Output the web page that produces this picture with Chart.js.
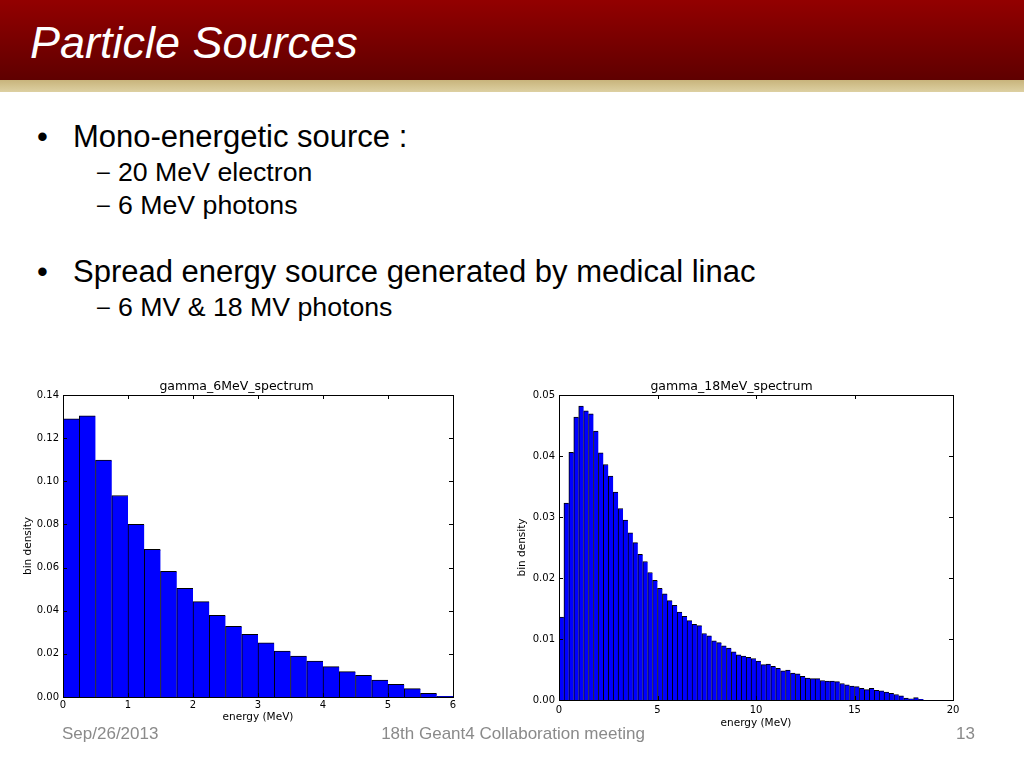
<!DOCTYPE html>
<html>
<head>
<meta charset="utf-8">
<title>Particle Sources</title>
<script src="https://cdn.jsdelivr.net/npm/chart.js@4.4.0/dist/chart.umd.min.js"></script>
<style>
  html, body { margin: 0; padding: 0; }
  body { width: 1024px; height: 768px; position: relative; overflow: hidden; background: #fff;
         font-family: "Liberation Sans", Arial, sans-serif; color: #000; }
  .abs { position: absolute; line-height: 1; white-space: nowrap; }
  #header { position: absolute; left: 0; top: 0; width: 1024px; height: 80px;
            background: linear-gradient(#930000, #5f0000); }
  #band { position: absolute; left: 0; top: 80px; width: 1024px; height: 12px;
          background: linear-gradient(#c8b47c, #ddd0a2); }
  #title { left: 30px; top: 20px; font-size: 45px; font-style: italic; color: #fff; }
  .l1 { font-size: 31px; }
  .l2 { font-size: 26.7px; }
  .dash { font-size: 23px; }
  .foot { font-size: 17px; color: #8a8a8a; top: 725px; }
  #c1 { position: absolute; left: 20px; top: 375px; }
  #c2 { position: absolute; left: 510px; top: 375px; }
</style>
</head>
<body>
<div id="header"></div>
<div id="band"></div>
<div id="title" class="abs">Particle Sources</div>

<div class="abs l1" style="left:37px;top:121px">&bull;</div>
<div class="abs l1" style="left:73px;top:121px">Mono-energetic source :</div>
<div class="abs dash" style="left:97px;top:160px">&ndash;</div>
<div class="abs l2" style="left:118px;top:159px">20 MeV electron</div>
<div class="abs dash" style="left:97px;top:193px">&ndash;</div>
<div class="abs l2" style="left:118px;top:192px">6 MeV photons</div>
<div class="abs l1" style="left:37px;top:256px">&bull;</div>
<div class="abs l1" style="left:73px;top:256px">Spread energy source generated by medical linac</div>
<div class="abs dash" style="left:97px;top:295px">&ndash;</div>
<div class="abs l2" style="left:118px;top:294px">6 MV &amp; 18 MV photons</div>

<canvas id="c1" width="450" height="350" style="width:450px;height:350px"></canvas>
<canvas id="c2" width="460" height="355" style="width:460px;height:355px"></canvas>

<div class="abs foot" style="left:62px">Sep/26/2013</div>
<div class="abs foot" style="left:313px;width:400px;text-align:center">18th Geant4 Collaboration meeting</div>
<div class="abs foot" style="left:875px;width:100px;text-align:right">13</div>

<script>
// bin width is 0.25 MeV for both histograms
var binWidth = 0.25;

var title6 = 'gamma_6MeV_spectrum';
var xTicks6 = [0, 1, 2, 3, 4, 5, 6];
var yTicks6 = [0, 0.02, 0.04, 0.06, 0.08, 0.10, 0.12, 0.14];
var density6 = [0.1289, 0.1304, 0.1098, 0.0934, 0.0800, 0.0684, 0.0583, 0.0504,
                0.0442, 0.0379, 0.0328, 0.0291, 0.0251, 0.0213, 0.0190, 0.0166,
                0.0141, 0.0118, 0.0101, 0.0079, 0.0059, 0.0039, 0.0017, 0.0003];

var title18 = 'gamma_18MeV_spectrum';
var xTicks18 = [0, 5, 10, 15, 20];
var yTicks18 = [0, 0.01, 0.02, 0.03, 0.04, 0.05];
var density18 = [0.0136, 0.0323, 0.0406, 0.0464, 0.0482, 0.0474, 0.0469, 0.0441,
                 0.0405, 0.0386, 0.0367, 0.0341, 0.0314, 0.0295, 0.0274, 0.0258,
                 0.0239, 0.0227, 0.0209, 0.0196, 0.0183, 0.0174, 0.0163, 0.0155,
                 0.0144, 0.0137, 0.0130, 0.0124, 0.0122, 0.0109, 0.0105, 0.0097,
                 0.0094, 0.0089, 0.0085, 0.0079, 0.0074, 0.0072, 0.0070, 0.0068,
                 0.0064, 0.0058, 0.0059, 0.0055, 0.0052, 0.0048, 0.0049, 0.0044,
                 0.0043, 0.0039, 0.0036, 0.0035, 0.0035, 0.0032, 0.0031, 0.0031,
                 0.0030, 0.0027, 0.0025, 0.0023, 0.0022, 0.0019, 0.0017, 0.0019,
                 0.0016, 0.0015, 0.0013, 0.0011, 0.0009, 0.0007, 0.0003, 0.0002,
                 0.0004, 0.0001, 0, 0, 0, 0, 0, 0];

var font = 'DejaVu Sans';

// matplotlib style box with inward ticks on all four sides
var frame = {
  id: 'frame',
  afterDraw: function(chart) {
    var ctx = chart.ctx, a = chart.chartArea;
    var xs = chart.scales.x, ys = chart.scales.y, t = 4;
    ctx.save();
    ctx.strokeStyle = '#000';
    ctx.lineWidth = 1;
    ctx.strokeRect(Math.round(a.left) + 0.5, Math.round(a.top) + 0.5,
                   Math.round(a.right - a.left), Math.round(a.bottom - a.top));
    ctx.beginPath();
    xs.ticks.forEach(function(tk) {
      var px = Math.round(xs.getPixelForValue(tk.value)) + 0.5;
      ctx.moveTo(px, a.bottom); ctx.lineTo(px, a.bottom - t);
      ctx.moveTo(px, a.top); ctx.lineTo(px, a.top + t);
    });
    ys.ticks.forEach(function(tk) {
      var py = Math.round(ys.getPixelForValue(tk.value)) + 0.5;
      ctx.moveTo(a.left, py); ctx.lineTo(a.left + t, py);
      ctx.moveTo(a.right, py); ctx.lineTo(a.right - t, py);
    });
    ctx.stroke();
    ctx.restore();
  }
};

function histogram(id, title, values, xTicks, yTicks, opts) {
  var points = values.map(function(v, i) {
    return { x: (i + 0.5) * binWidth, y: v };
  });
  return new Chart(document.getElementById(id), {
    type: 'bar',
    data: {
      datasets: [{
        data: points,
        backgroundColor: '#0000ff',
        borderColor: '#000000',
        borderWidth: { top: 1, left: 1, right: 0, bottom: 0 },
        borderSkipped: false,
        barPercentage: 1,
        categoryPercentage: 1
      }]
    },
    options: {
      responsive: false,
      animation: false,
      layout: { padding: { left: 0, right: 17, top: 0, bottom: 0 } },
      plugins: {
        legend: { display: false },
        tooltip: { enabled: false },
        title: {
          display: true, text: title, color: '#000',
          font: { family: font, size: 12.5, weight: 'normal' },
          padding: { top: 4, bottom: 1 }
        }
      },
      scales: {
        x: {
          type: 'linear', offset: false,
          min: xTicks[0], max: xTicks[xTicks.length - 1],
          grid: { display: false, drawTicks: false },
          border: { display: false },
          afterBuildTicks: function(s) { s.ticks = xTicks.map(function(v) { return { value: v }; }); },
          afterFit: function(s) { s.height = opts.xHeight; },
          ticks: { color: '#000', padding: opts.xTickPad, maxRotation: 0, autoSkip: false,
                   font: { family: font, size: 10 },
                   callback: function(v) { return String(v); } },
          title: { display: true, text: 'energy (MeV)', color: '#000',
                   font: { family: font, size: 10.5 }, padding: { top: 0, bottom: opts.xTitlePad } }
        },
        y: {
          min: yTicks[0], max: yTicks[yTicks.length - 1],
          grid: { display: false, drawTicks: false },
          border: { display: false },
          afterBuildTicks: function(s) { s.ticks = yTicks.map(function(v) { return { value: v }; }); },
          afterFit: function(s) { s.width = opts.yWidth; },
          ticks: { color: '#000', padding: 4, autoSkip: false,
                   font: { family: font, size: 10 },
                   callback: function(v) { return Number(v).toFixed(2); } },
          title: { display: true, text: 'bin density', color: '#000',
                   font: { family: font, size: 10.5 }, padding: { top: opts.yTitlePad, bottom: 0 } }
        }
      }
    },
    plugins: [frame]
  });
}

histogram('c1', title6, density6, xTicks6, yTicks6,
          { yWidth: 43, yTitlePad: 2, xHeight: 28, xTickPad: 2, xTitlePad: 1 });
histogram('c2', title18, density18, xTicks18, yTicks18,
          { yWidth: 49, yTitlePad: 6, xHeight: 30, xTickPad: 4, xTitlePad: 0 });
</script>
</body>
</html>
